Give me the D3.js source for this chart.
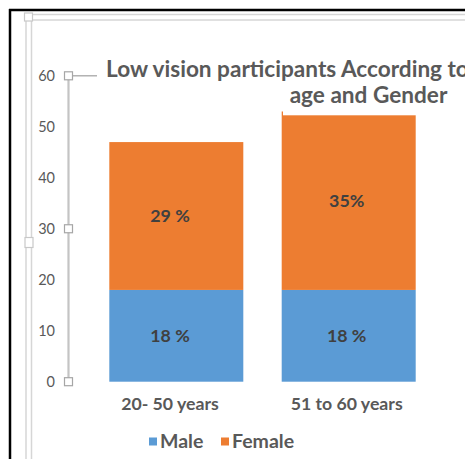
<!DOCTYPE html>
<html>
<head>
<meta charset="utf-8">
<script src="https://cdn.jsdelivr.net/npm/d3@7"></script>
<style>
  html, body { margin: 0; padding: 0; background: #ffffff; }
  svg { display: block; font-family: Lato, "Open Sans", sans-serif; }
</style>
</head>
<body>
<svg id="chart" width="465" height="459"></svg>
<script>
// Age groups, gender series and the percentage labels printed on each segment
const categories = ["20- 50 years", "51 to 60 years"];
const seriesNames = ["Male", "Female"];
const maleValues = [18, 18];
const femaleValues = [29, 35];
const maleLabels = ["18 %", "18 %"];
const femaleLabels = ["29 %", "35%"];
const yTicks = [0, 10, 20, 30, 40, 50, 60];
const titleLines = ["Low vision participants According to", "age and Gender"];

const colors = { Male: "#5B9BD5", Female: "#ED7D31" };
// text in each column sits slightly left of its bar centre
const textShift = [-6.3, -2];
const svg = d3.select("#chart");

const rows = categories.map((c, i) => ({
  cat: c, idx: i, Male: maleValues[i], Female: femaleValues[i],
  labels: { Male: maleLabels[i], Female: femaleLabels[i] }
}));

const x = d3.scaleBand().domain(categories)
  .range([90.1, 434.9]).paddingInner(0.2227).paddingOuter(0.1114);
const y = d3.scaleLinear().domain([0, 60]).range([381.7, 75.8]);

// outer black frame (top and left edges)
svg.append("line").attr("x1", 9).attr("x2", 466).attr("y1", 10).attr("y2", 10)
  .attr("stroke", "#000").attr("stroke-width", 2.5);
svg.append("line").attr("x1", 10).attr("x2", 10).attr("y1", 9).attr("y2", 460)
  .attr("stroke", "#000").attr("stroke-width", 2.5);

// selected chart-area frame: double light gray edges with handles
const frame = svg.append("g").attr("stroke", "#d6d6d6").attr("stroke-width", 1.5).attr("fill", "none");
frame.append("line").attr("x1", 26).attr("x2", 466).attr("y1", 14.5).attr("y2", 14.5);
frame.append("line").attr("x1", 31.5).attr("x2", 466).attr("y1", 20).attr("y2", 20);
frame.append("line").attr("x1", 26).attr("x2", 26).attr("y1", 14.5).attr("y2", 460);
frame.append("line").attr("x1", 31.5).attr("x2", 31.5).attr("y1", 20).attr("y2", 460);
svg.append("rect").attr("x", 24.5).attr("y", 13).attr("width", 8).attr("height", 8)
  .attr("fill", "#fff").attr("stroke", "#c8c8c8").attr("stroke-width", 1.2);
svg.append("rect").attr("x", 25).attr("y", 237.5).attr("width", 8).attr("height", 10)
  .attr("fill", "#fff").attr("stroke", "#c8c8c8").attr("stroke-width", 1.2);

// stacked bars
const stacked = d3.stack().keys(seriesNames)(rows);
const layers = svg.append("g").selectAll("g").data(stacked).join("g")
  .attr("fill", d => colors[d.key]);
layers.selectAll("rect").data(d => d.map(p => ({ p, key: d.key }))).join("rect")
  .attr("x", d => x(d.p.data.cat))
  .attr("width", x.bandwidth())
  .attr("y", d => y(d.p[1]))
  .attr("height", d => y(d.p[0]) - y(d.p[1]));

// segment labels
layers.selectAll("text").data(d => d.map(p => ({ p, key: d.key }))).join("text")
  .attr("x", d => x(d.p.data.cat) + x.bandwidth() / 2 + textShift[d.p.data.idx])
  .attr("y", d => (y(d.p[0]) + y(d.p[1])) / 2)
  .attr("dy", "0.36em")
  .attr("text-anchor", "middle")
  .attr("fill", "#404040")
  .attr("font-weight", 700)
  .attr("font-size", 17.8)
  .text(d => d.p.data.labels[d.key]);

// value axis drawn as a selected line with handles
const axisG = svg.append("g");
axisG.append("line").attr("x1", 68.5).attr("x2", 68.5).attr("y1", y(60)).attr("y2", y(0))
  .attr("stroke", "#c4c4c4").attr("stroke-width", 2.2);
axisG.append("line").attr("x1", 72).attr("x2", 97).attr("y1", y(60)).attr("y2", y(60))
  .attr("stroke", "#a6a6a6").attr("stroke-width", 1.3);
axisG.selectAll("rect").data([60, 30, 0]).join("rect")
  .attr("x", 64.5).attr("y", d => y(d) - 4).attr("width", 8).attr("height", 8)
  .attr("fill", "#fff").attr("stroke", "#a6a6a6").attr("stroke-width", 1.2);
axisG.selectAll("text").data(yTicks).join("text")
  .attr("x", 55).attr("y", d => y(d)).attr("dy", "0.36em")
  .attr("text-anchor", "end").attr("fill", "#595959").attr("font-size", 14.5)
  .text(d => d);

// title box (white fill overlaps the top of the taller bar)
svg.append("rect").attr("x", 283).attr("y", 84).attr("width", 190).attr("height", 31.3)
  .attr("fill", "#fff");
svg.append("text").attr("x", 106).attr("y", 77).attr("fill", "#595959")
  .attr("font-weight", 700).attr("font-size", 22.6).text(titleLines[0]);
svg.append("text").attr("x", 368.5).attr("y", 103).attr("text-anchor", "middle").attr("fill", "#595959")
  .attr("font-weight", 700).attr("font-size", 22.6).text(titleLines[1]);

// category labels
svg.append("g").selectAll("text").data(categories).join("text")
  .attr("x", (d, i) => x(d) + x.bandwidth() / 2 + textShift[i])
  .attr("y", 409.5).attr("text-anchor", "middle")
  .attr("fill", "#595959").attr("font-weight", 700).attr("font-size", 17.7)
  .text(d => d);

// legend
const legendX = [149, 221];
const leg = svg.append("g").selectAll("g").data(seriesNames).join("g")
  .attr("transform", (d, i) => `translate(${legendX[i]},437.5)`);
leg.append("rect").attr("width", 8).attr("height", 8).attr("fill", d => colors[d]);
leg.append("text").attr("x", 11).attr("y", 10).attr("fill", "#595959")
  .attr("font-weight", 700).attr("font-size", 19.5).text(d => d);
</script>
</body>
</html>
